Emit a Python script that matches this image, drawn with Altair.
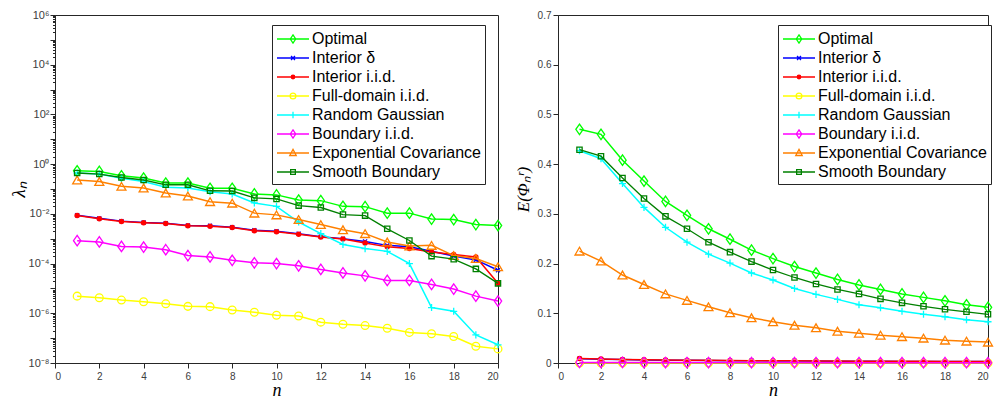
import altair as alt
import pandas as pd

# ---------------- data ----------------
n = list(range(1, 21))
series = ["Optimal", "Interior δ", "Interior i.i.d.", "Full-domain i.i.d.",
          "Random Gaussian", "Boundary i.i.d.", "Exponential Covariance", "Smooth Boundary"]
colors = ["#00ff00", "#0000ff", "#ff0000", "#ffff00", "#00ffff", "#ff00ff", "#ff8000", "#008000"]

# left panel: lambda_n (log scale)
opt_L = [0.54, 0.51, 0.34, 0.275, 0.174, 0.174, 0.107, 0.107, 0.063, 0.058, 0.036, 0.034, 0.020, 0.0195, 0.0107, 0.0107, 0.0062, 0.0059, 0.0037, 0.0034]
intd_L = [0.0088, 0.0066, 0.0051, 0.0045, 0.0042, 0.0034, 0.0033, 0.0029, 0.0022, 0.0020, 0.0016, 0.0012, 0.0010, 0.00078, 0.00054, 0.00047, 0.00031, 0.00020, 0.00014, 0.000054]
inti_L = [0.0085, 0.0063, 0.0049, 0.0044, 0.0041, 0.0033, 0.0032, 0.0028, 0.0021, 0.0019, 0.0015, 0.00117, 0.00097, 0.00067, 0.00047, 0.00040, 0.00029, 0.00023, 0.000185, 0.000016]
full_L = [4.9e-6, 4.2e-6, 3.4e-6, 2.9e-6, 2.4e-6, 1.9e-6, 1.85e-6, 1.35e-6, 1.1e-6, 8.3e-7, 7.8e-7, 4.4e-7, 3.6e-7, 3.2e-7, 2.5e-7, 1.7e-7, 1.5e-7, 1.17e-7, 4.7e-8, 3.7e-8]
rg_L = [0.44, 0.40, 0.27, 0.20, 0.117, 0.11, 0.078, 0.063, 0.0275, 0.020, 0.0047, 0.0016, 0.00059, 0.0004, 0.00031, 0.0001, 1.7e-6, 1.2e-6, 1.35e-7, 5.4e-8]
bnd_L = [8.3e-4, 7.4e-4, 4.9e-4, 4.6e-4, 3.6e-4, 2.1e-4, 1.85e-4, 1.35e-4, 1.07e-4, 1.0e-4, 8.1e-5, 5.8e-5, 4.2e-5, 3.2e-5, 2.1e-5, 2.1e-5, 1.45e-5, 9.4e-6, 4.9e-6, 3.1e-6]
exp_L = [0.23, 0.20, 0.128, 0.11, 0.069, 0.052, 0.031, 0.027, 0.0107, 0.0091, 0.0059, 0.0037, 0.0023, 0.0016, 0.00074, 0.00051, 0.00054, 0.00021, 0.00016, 0.000074]
smo_L = [0.44, 0.40, 0.29, 0.23, 0.148, 0.148, 0.085, 0.083, 0.044, 0.040, 0.0215, 0.018, 0.0094, 0.0085, 0.0025, 0.00085, 0.00020, 0.00015, 0.000061, 0.000016]

# right panel: E(Phi_n^r) (linear scale)
opt_R = [0.470, 0.460, 0.408, 0.366, 0.325, 0.297, 0.270, 0.249, 0.227, 0.210, 0.194, 0.181, 0.168, 0.157, 0.148, 0.139, 0.132, 0.125, 0.117, 0.112]
intd_R = [0.0086, 0.0075, 0.0068, 0.0062, 0.0057, 0.0053, 0.0050, 0.0047, 0.0044, 0.0042, 0.0040, 0.0038, 0.0036, 0.0035, 0.0033, 0.0032, 0.0031, 0.0030, 0.0029, 0.0028]
inti_R = [0.0092, 0.0080, 0.0072, 0.0066, 0.0061, 0.0057, 0.0053, 0.0050, 0.0047, 0.0045, 0.0043, 0.0041, 0.0039, 0.0037, 0.0036, 0.0034, 0.0033, 0.0032, 0.0031, 0.0030]
full_R = [0.00012, 0.00011, 0.00010, 0.00010, 0.00009, 0.00009, 0.00008, 0.00008, 0.00008, 0.00007, 0.00007, 0.00007, 0.00006, 0.00006, 0.00006, 0.00006, 0.00005, 0.00005, 0.00005, 0.00005]
rg_R = [0.427, 0.411, 0.361, 0.313, 0.273, 0.243, 0.219, 0.201, 0.181, 0.167, 0.150, 0.138, 0.128, 0.117, 0.111, 0.104, 0.098, 0.093, 0.087, 0.083]
bnd_R = [0.0012, 0.0011, 0.0011, 0.0010, 0.0010, 0.0009, 0.0009, 0.0009, 0.0008, 0.0008, 0.0008, 0.0007, 0.0007, 0.0007, 0.0007, 0.0006, 0.0006, 0.0006, 0.0006, 0.0005]
exp_R = [0.225, 0.205, 0.177, 0.158, 0.139, 0.126, 0.113, 0.101, 0.091, 0.083, 0.076, 0.071, 0.064, 0.060, 0.056, 0.053, 0.050, 0.046, 0.044, 0.042]
smo_R = [0.429, 0.416, 0.372, 0.331, 0.295, 0.270, 0.243, 0.223, 0.204, 0.187, 0.172, 0.159, 0.148, 0.139, 0.129, 0.121, 0.114, 0.108, 0.103, 0.098]

x_ticks = list(range(0, 21, 2))
lin_ticks = [0, 0.1, 0.2, 0.3, 0.4, 0.5, 0.6, 0.7]
log_ticks = [m * 10.0 ** k for k in range(-8, 6) for m in range(1, 10)] + [1e6]

# ---------------- styles ----------------
DIAMOND = "M0,-1L0.7,0L0,1L-0.7,0Z"
XMARK = "M-1,-1L1,1M-1,1L1,-1"
PLUS = "M-1,0L1,0M0,-1L0,1"
markers = [
    dict(shape=DIAMOND, size=110, filled=False, lw=1.5),
    dict(shape=XMARK, size=16, filled=False, lw=1.5),
    dict(shape="circle", size=30, filled=True, lw=1.5),
    dict(shape="circle", size=60, filled=False, lw=1.5),
    dict(shape=PLUS, size=50, filled=False, lw=1.5),
    dict(shape=DIAMOND, size=110, filled=False, lw=1.5),
    dict(shape="triangle-up", size=80, filled=False, lw=1.5),
    dict(shape="square", size=28, filled=False, lw=1.3),
]

# legend symbols: line segment + marker (unit = 9 px, symbol centre at 9 px)
LINE = "M-1,0L2.556,0"
c = 0.778
def circ(r):
    return f"M{c - r:.3f},0A{r},{r},0,1,0,{c + r:.3f},0A{r},{r},0,1,0,{c - r:.3f},0"
def diamond(h, w):
    return f"M{c},-{h}L{c + w:.3f},0L{c},{h}L{c - w:.3f},0Z"
legend_paths = [
    LINE + diamond(0.45, 0.3),
    LINE + f"M{c - 0.22:.3f},-0.22L{c + 0.22:.3f},0.22M{c - 0.22:.3f},0.22L{c + 0.22:.3f},-0.22",
    LINE + circ(0.2) + circ(0.1),
    LINE + circ(0.32),
    LINE + f"M{c},-0.36L{c},0.36",
    LINE + diamond(0.45, 0.3),
    LINE + f"M{c},-0.4L{c + 0.36:.3f},0.28L{c - 0.36:.3f},0.28Z",
    LINE + f"M{c - 0.26:.3f},-0.26L{c + 0.26:.3f},-0.26L{c + 0.26:.3f},0.26L{c - 0.26:.3f},0.26Z",
]

color_scale = alt.Scale(domain=series, range=colors)

EXPO = "round(log(datum.value)/LN10)"
IS_MAJOR = f"abs(log(datum.value)/LN10 - {EXPO}) < 1e-6"
log_label = (f"({IS_MAJOR} && {EXPO} % 2 == 0) ? '10' + ({EXPO} < 0 ? '⁻' : '') + "
             f"['⁰','¹','²','³','⁴','⁵','⁶','⁷','⁸','⁹'][abs({EXPO})] : ''")

PLOT_H = 348


def make_panel(vals_list, yscale, yaxis, legend_x, legend_y, width, height):
    rows = []
    for s, vals in zip(series, vals_list):
        for i, v in zip(n, vals):
            rows.append({"n": i, "value": v, "series": s})
    df = pd.DataFrame(rows)
    base = alt.Chart(df)
    x = alt.X("n:Q", scale=alt.Scale(domain=[0, 20], nice=False, zero=False),
              axis=alt.Axis(values=x_ticks, format="d", title="n", titleFontSize=18,
                            titlePadding=0, tickSize=5, labelPadding=3))
    y = alt.Y("value:Q", scale=yscale, axis=yaxis)
    layers = []
    for s, col, m in zip(series, colors, markers):
        sub = base.transform_filter(alt.datum.series == s)
        layers.append(sub.mark_line(strokeWidth=m["lw"], color=col, clip=False).encode(x=x, y=y))
        layers.append(sub.mark_point(shape=m["shape"], size=m["size"], filled=m["filled"],
                                     color=col, strokeWidth=1.3, opacity=1, clip=False)
                      .encode(x=x, y=y))
    leg = alt.Legend(orient="none", legendX=legend_x, legendY=legend_y, title=None,
                     strokeColor="#262626", fillColor="white", padding=4,
                     labelFont="Liberation Sans", labelFontSize=16, labelColor="black",
                     labelLimit=400, labelOffset=16, symbolSize=324, symbolStrokeWidth=1.3,
                     symbolOpacity=1, rowPadding=1)
    legend_layer = base.transform_filter("false").mark_point(filled=False, opacity=1).encode(
        x=x, y=y,
        color=alt.Color("series:N", scale=color_scale, legend=leg),
        shape=alt.Shape("series:N", scale=alt.Scale(domain=series, range=legend_paths), legend=leg),
    )
    return alt.layer(*layers, legend_layer).properties(width=width, height=height)


left = make_panel(
    [opt_L, intd_L, inti_L, full_L, rg_L, bnd_L, exp_L, smo_L],
    alt.Scale(type="log", domain=[1e-8, 1e6], nice=False),
    alt.Axis(values=log_ticks, labelExpr=log_label, labelOverlap=False, labelFontSize=11,
             labelPadding=1,
             tickSize={"condition": {"test": IS_MAJOR, "value": 5}, "value": 2.5},
             title="λₙ", titleFontSize=19, titlePadding=0),
    217, 10, 443, PLOT_H)

right = make_panel(
    [opt_R, intd_R, inti_R, full_R, rg_R, bnd_R, exp_R, smo_R],
    alt.Scale(domain=[0, 0.7], nice=False),
    alt.Axis(values=lin_ticks, labelExpr="datum.value == 0 ? '0' : format(datum.value, '.1f')",
             tickSize=5, title="E(Φₙʳ)", titleFontSize=17, titlePadding=5),
    220, 10, 430, PLOT_H)

chart = alt.hconcat(left, right, spacing=7).resolve_scale(
    color="independent", shape="independent"
).resolve_legend(color="independent", shape="independent").properties(
    padding={"left": 0, "top": 0, "right": 0, "bottom": 0}
).configure_view(stroke="#262626", strokeWidth=1).configure_axis(
    grid=False, domainColor="#262626", tickColor="#262626", labelColor="#404040",
    labelFont="Liberation Sans", titleFont="Liberation Serif", titleFontStyle="italic",
    titleFontWeight="normal", titleColor="black"
)

chart.save("out.html", embed_options={"renderer": "svg", "actions": False})
